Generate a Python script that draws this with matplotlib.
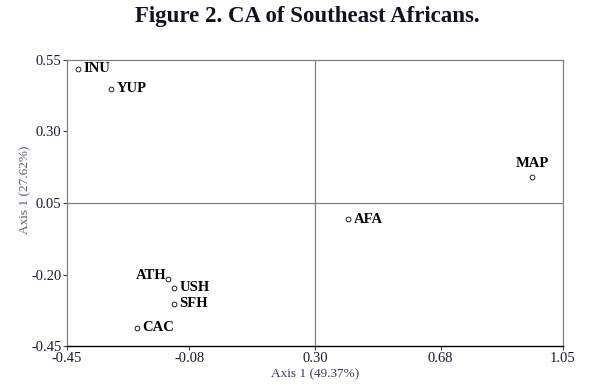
import matplotlib.pyplot as plt

labels = ['INU', 'YUP', 'ATH', 'USH', 'SFH', 'CAC', 'AFA', 'MAP']
axis1 = [-0.417, -0.317, -0.145, -0.126, -0.126, -0.238, 0.400, 0.956]
axis2 = [0.519, 0.449, -0.216, -0.247, -0.303, -0.387, -0.006, 0.141]
xticks = [-0.45, -0.08, 0.30, 0.68, 1.05]
yticks = [-0.45, -0.20, 0.05, 0.30, 0.55]

plt.rcParams['font.family'] = ['Liberation Serif', 'DejaVu Serif']

fig = plt.figure(figsize=(5.96, 3.89), dpi=100)
ax = fig.add_axes([0.1124, 0.1105, 0.8322, 0.7353])

ax.axvline(0.30, color='#808080', lw=0.9, zorder=1)
ax.axhline(0.05, color='#808080', lw=0.9, zorder=1)
ax.scatter(axis1, axis2, s=12, facecolors='white', edgecolors='black', linewidths=0.6, zorder=3)

for name, x, y in zip(labels, axis1, axis2):
    if name == 'ATH':
        ax.annotate(name, (x, y), xytext=(-1, 0), textcoords='offset points',
                    ha='right', va='baseline', fontsize=10.5, fontweight='bold')
    elif name == 'MAP':
        ax.annotate(name, (x, y), xytext=(0, 5), textcoords='offset points',
                    ha='center', va='bottom', fontsize=10.5, fontweight='bold')
    else:
        ax.annotate(name, (x, y), xytext=(4, 0), textcoords='offset points',
                    ha='left', va='center', fontsize=10.5, fontweight='bold')

ax.set_xlim(-0.45, 1.05)
ax.set_ylim(-0.45, 0.55)
ax.set_xticks(xticks)
ax.set_xticklabels(['%.2f' % v for v in xticks])
ax.set_yticks(yticks)
ax.set_yticklabels(['%.2f' % v for v in yticks])
ax.tick_params(labelsize=10.5, length=3, width=0.8, color='#404040', pad=1,
               labelcolor='#1a1a33')

for side in ['top', 'right', 'left']:
    ax.spines[side].set_color('#808080')
    ax.spines[side].set_linewidth(0.9)
ax.spines['bottom'].set_color('black')
ax.spines['bottom'].set_linewidth(1.0)

ax.set_xlabel('Axis 1 (49.37%)', fontsize=9.5, color='#3a3a5a', labelpad=3)
ax.set_ylabel('Axis 1 (27.62%)', fontsize=9.5, color='#5a5a78')
ax.yaxis.set_label_coords(-0.073, 0.545)

fig.text(0.516, 0.958, 'Figure 2. CA of Southeast Africans.', ha='center', va='center',
         fontsize=16.5, fontweight='bold', color='#111122')

fig.savefig('out.png', dpi=100)
